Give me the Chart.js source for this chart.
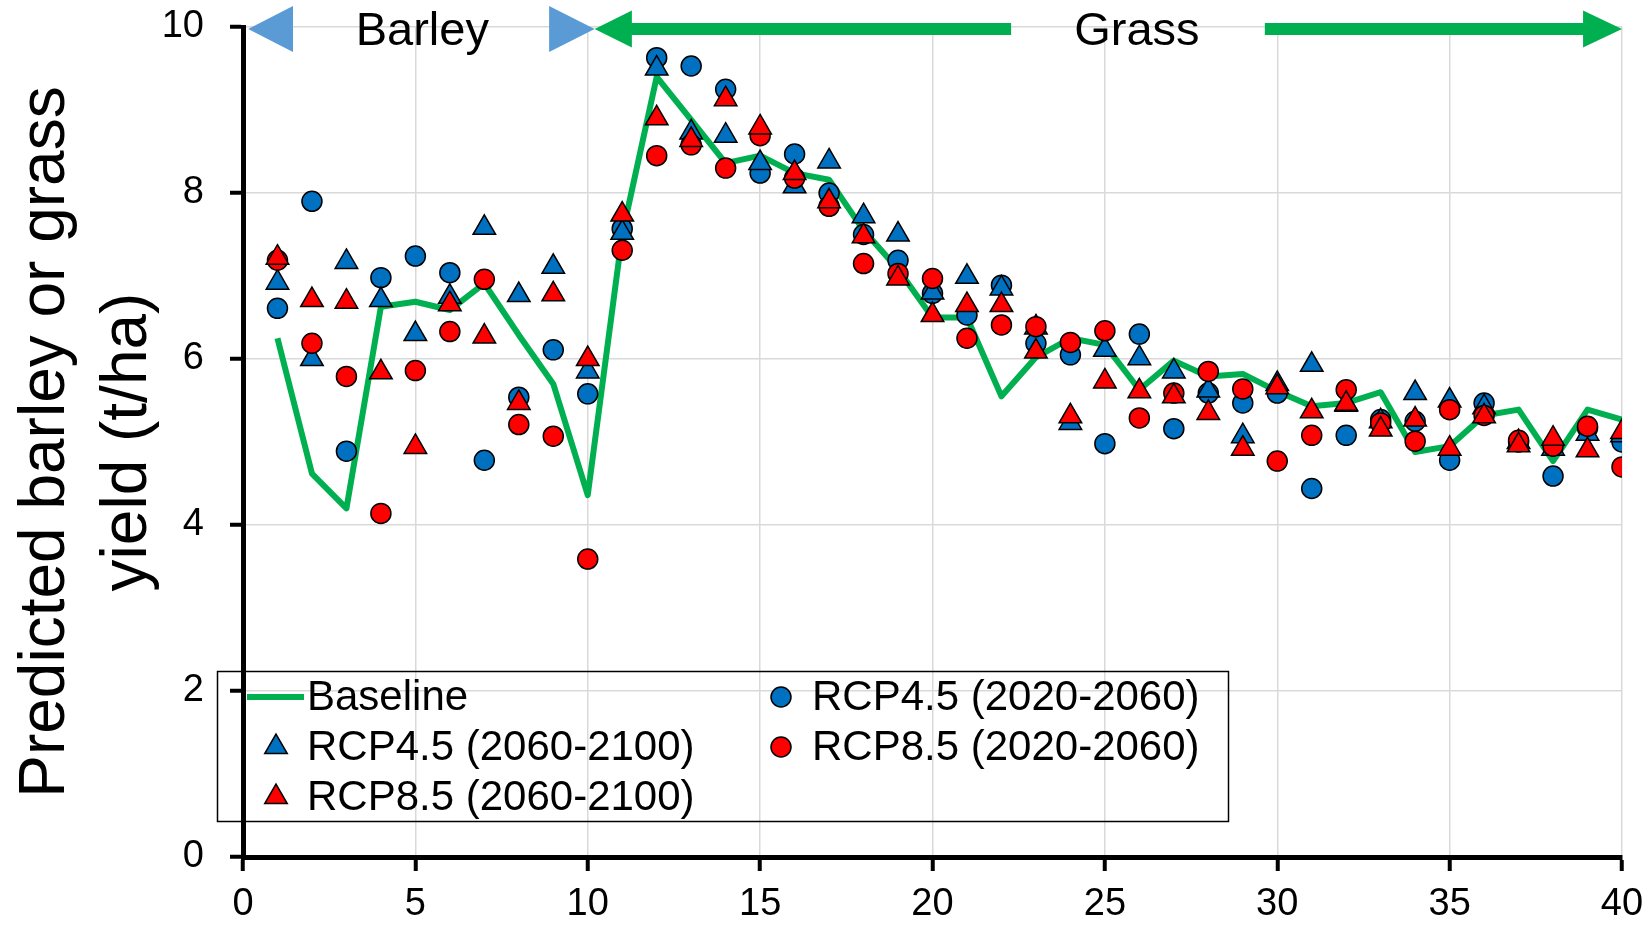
<!DOCTYPE html>
<html>
<head>
<meta charset="utf-8">
<script src="https://cdn.jsdelivr.net/npm/chart.js@4.4.0/dist/chart.umd.min.js"></script>
<style>
  html, body { margin: 0; padding: 0; background: #fff; }
  #wrap { width: 1650px; height: 929px; }
</style>
</head>
<body>
<div id="wrap"><canvas id="chart" width="1650" height="929"></canvas></div>
<script>
// ============================
// Data
// ============================

const years = [1, 2, 3, 4, 5, 6, 7, 8, 9, 10,
    11, 12, 13, 14, 15, 16, 17, 18, 19, 20,
    21, 22, 23, 24, 25, 26, 27, 28, 29, 30,
    31, 32, 33, 34, 35, 36, 37, 38, 39, 40];

const baseline = [6.25, 4.62, 4.20, 6.63, 6.69, 6.59, 6.91, 6.29, 5.70, 4.36,
    7.50, 9.40, 8.88, 8.36, 8.45, 8.24, 8.16, 7.55, 7.08, 6.50,
    6.50, 5.55, 6.02, 6.25, 6.17, 5.63, 5.98, 5.79, 5.82, 5.61,
    5.43, 5.47, 5.60, 4.88, 4.95, 5.32, 5.39, 4.77, 5.39, 5.27];

// RCP4.5 (2020-2060) - blue circles
const rcp45Early = [6.61, 7.90, 4.89, 6.98, 7.24, 7.04, 4.78, 5.54, 6.11, 5.58,
    7.57, 9.63, 9.53, 9.25, 8.24, 8.47, 8.00, 7.50, 7.19, 6.79,
    6.53, 6.89, 6.19, 6.05, 4.98, 6.30, 5.16, 5.59, 5.47, 5.59,
    4.44, 5.08, 5.27, 5.25, 4.78, 5.47, 5.00, 4.59, 5.17, 5.00];

// RCP4.5 (2060-2100) - blue triangles
const rcp45Late = [6.92, 6.00, 7.17, 6.71, 6.30, 6.75, 7.58, 6.77, 7.11, 5.85,
    7.52, 9.50, 8.73, 8.69, 8.36, 8.08, 8.38, 7.72, 7.50, 6.80,
    6.99, 6.85, 6.38, 5.23, 6.11, 6.01, 5.85, 5.62, 5.07, 5.70,
    5.93, 5.45, 5.25, 5.59, 5.50, 5.42, 5.00, 4.92, 5.10, 5.08];

// RCP8.5 (2020-2060) - red circles
const rcp85Early = [7.19, 6.19, 5.79, 4.14, 5.86, 6.33, 6.96, 5.21, 5.07, 3.59,
    7.31, 8.45, 8.58, 8.30, 8.69, 8.18, 7.84, 7.15, 7.03, 6.97,
    6.25, 6.41, 6.39, 6.20, 6.34, 5.29, 5.59, 5.85, 5.64, 4.77,
    5.08, 5.63, 5.23, 5.01, 5.39, 5.32, 5.02, 4.95, 5.19, 4.70];

// RCP8.5 (2060-2100) - red triangles
const rcp85Late = [7.22, 6.71, 6.69, 5.84, 4.94, 6.66, 6.27, 5.47, 6.78, 6.00,
    7.74, 8.90, 8.64, 9.13, 8.79, 8.24, 7.90, 7.48, 6.97, 6.53,
    6.65, 6.65, 6.09, 5.31, 5.73, 5.61, 5.55, 5.35, 4.92, 5.66,
    5.37, 5.46, 5.15, 5.27, 4.92, 5.31, 4.96, 5.04, 4.90, 5.12];

const xTicks = [0, 5, 10, 15, 20, 25, 30, 35, 40];
const yTicks = [0, 2, 4, 6, 8, 10];

const FONT = '"Liberation Sans", Arial, sans-serif';
const GREEN = '#00b050';
const BLUE = '#0070c0';
const RED = '#ff0000';
const ARROW_BLUE = '#5b9bd5';

const toPoints = values => years.map((yr, i) => ({ x: yr, y: values[i] }));

// ============================
// Marker helper (same geometry as Chart.js)
// ============================

function drawMarker(ctx, style, x, y, r, fill) {
    ctx.beginPath();
    if (style === 'circle') {
        ctx.arc(x, y, r, 0, Math.PI * 2);
    } else {
        let rad = 0;
        for (let k = 0; k < 3; k++) {
            const px = x + Math.sin(rad) * r;
            const py = y - Math.cos(rad) * r;
            if (k === 0) ctx.moveTo(px, py); else ctx.lineTo(px, py);
            rad += Math.PI * 2 / 3;
        }
        ctx.closePath();
    }
    ctx.fillStyle = fill;
    ctx.fill();
    ctx.lineWidth = 1.5;
    ctx.strokeStyle = '#000';
    ctx.stroke();
}

// ============================
// Top band: Barley / Grass arrows
// ============================

const topBand = {
    id: 'topBand',
    afterDraw(chart) {
        const { ctx, scales: { x, y } } = chart;
        const yc = y.getPixelForValue(10) + 2;
        const px = v => x.getPixelForValue(v);
        ctx.save();

        // barley: two blue triangles
        ctx.fillStyle = ARROW_BLUE;
        ctx.beginPath();
        ctx.moveTo(px(0.15), yc);
        ctx.lineTo(px(1.45), yc - 23);
        ctx.lineTo(px(1.45), yc + 23);
        ctx.closePath();
        ctx.fill();
        ctx.beginPath();
        ctx.moveTo(px(10.2), yc);
        ctx.lineTo(px(8.88), yc - 23);
        ctx.lineTo(px(8.88), yc + 23);
        ctx.closePath();
        ctx.fill();

        // grass: green double arrow with a gap for the text
        ctx.fillStyle = GREEN;
        ctx.beginPath();
        ctx.moveTo(px(10.2), yc);
        ctx.lineTo(px(11.28), yc - 18.5);
        ctx.lineTo(px(11.28), yc + 18.5);
        ctx.closePath();
        ctx.fill();
        ctx.fillRect(px(11.2), yc - 6, px(22.28) - px(11.2), 12);
        ctx.fillRect(px(29.64), yc - 6, px(38.95) - px(29.64), 12);
        ctx.beginPath();
        ctx.moveTo(px(40), yc);
        ctx.lineTo(px(38.87), yc - 18.5);
        ctx.lineTo(px(38.87), yc + 18.5);
        ctx.closePath();
        ctx.fill();

        ctx.fillStyle = '#000';
        ctx.font = '47px ' + FONT;
        ctx.textAlign = 'center';
        ctx.textBaseline = 'middle';
        ctx.fillText('Barley', px(5.2), yc + 3);
        ctx.fillText('Grass', px(25.93), yc + 3);
        ctx.restore();
    }
};

// ============================
// Legend (two columns, boxed)
// ============================

const boxedLegend = {
    id: 'boxedLegend',
    afterDraw(chart) {
        const ctx = chart.ctx;
        ctx.save();
        ctx.strokeStyle = '#000';
        ctx.lineWidth = 1.5;
        ctx.strokeRect(217.5, 671.5, 1011, 150);

        const ds = chart.data.datasets;
        const items = [
            { d: ds[4], mx: 276, tx: 307, y: 697 },
            { d: ds[3], mx: 276, tx: 307, y: 747 },
            { d: ds[1], mx: 276, tx: 307, y: 797 },
            { d: ds[2], mx: 781, tx: 812, y: 697 },
            { d: ds[0], mx: 781, tx: 812, y: 747 }
        ];

        items.forEach(it => {
            if (it.d.showLine) {
                ctx.strokeStyle = it.d.borderColor;
                ctx.lineWidth = it.d.borderWidth;
                ctx.beginPath();
                ctx.moveTo(247, it.y);
                ctx.lineTo(304, it.y);
                ctx.stroke();
            } else {
                drawMarker(ctx, it.d.pointStyle, it.mx, it.y, it.d.pointRadius, it.d.backgroundColor);
            }
            ctx.fillStyle = '#000';
            ctx.font = '42px ' + FONT;
            ctx.textAlign = 'left';
            ctx.textBaseline = 'middle';
            ctx.fillText(it.d.label, it.tx, it.y + 1);
        });
        ctx.restore();
    }
};

// ============================
// Chart
// ============================

const ctx = document.getElementById('chart').getContext('2d');

new Chart(ctx, {
    type: 'scatter',
    data: {
        datasets: [
            {
                label: 'RCP8.5 (2020-2060)',
                data: toPoints(rcp85Early),
                pointStyle: 'circle',
                pointRadius: 10,
                backgroundColor: RED,
                borderColor: '#000',
                borderWidth: 1.5,
                order: 1
            },
            {
                label: 'RCP8.5 (2060-2100)',
                data: toPoints(rcp85Late),
                pointStyle: 'triangle',
                pointRadius: 13,
                backgroundColor: RED,
                borderColor: '#000',
                borderWidth: 1.5,
                order: 0
            },
            {
                label: 'RCP4.5 (2020-2060)',
                data: toPoints(rcp45Early),
                pointStyle: 'circle',
                pointRadius: 10,
                backgroundColor: BLUE,
                borderColor: '#000',
                borderWidth: 1.5,
                order: 3
            },
            {
                label: 'RCP4.5 (2060-2100)',
                data: toPoints(rcp45Late),
                pointStyle: 'triangle',
                pointRadius: 13,
                backgroundColor: BLUE,
                borderColor: '#000',
                borderWidth: 1.5,
                order: 2
            },
            {
                label: 'Baseline',
                data: toPoints(baseline),
                showLine: true,
                borderColor: GREEN,
                backgroundColor: GREEN,
                borderWidth: 6,
                borderJoinStyle: 'round',
                pointRadius: 0,
                tension: 0,
                order: 4
            }
        ]
    },
    options: {
        responsive: false,
        devicePixelRatio: 1,
        animation: false,
        layout: {
            padding: { top: 27, right: 28, left: 0, bottom: 0 }
        },
        scales: {
            x: {
                type: 'linear',
                min: 0,
                max: 40,
                afterBuildTicks: s => { s.ticks = xTicks.map(v => ({ value: v })); },
                afterFit: s => {
                    s.height = 72;
                    s.paddingLeft = 0;
                    s.paddingRight = 0;
                },
                grid: {
                    color: '#d9d9d9',
                    lineWidth: 1.5,
                    tickLength: 14,
                    tickColor: '#000',
                    tickWidth: 4
                },
                border: { color: '#000', width: 5 },
                ticks: {
                    color: '#000',
                    padding: 11,
                    maxRotation: 0,
                    font: { family: FONT, size: 38 }
                }
            },
            y: {
                min: 0,
                max: 10,
                afterBuildTicks: s => { s.ticks = yTicks.map(v => ({ value: v })); },
                afterFit: s => {
                    s.width = 243;
                    s.paddingTop = 0;
                    s.paddingBottom = 0;
                },
                grid: {
                    color: '#d9d9d9',
                    lineWidth: 1.5,
                    tickLength: 13,
                    tickColor: '#000',
                    tickWidth: 4
                },
                border: { color: '#000', width: 5 },
                ticks: {
                    color: '#000',
                    padding: 26,
                    font: { family: FONT, size: 38 }
                },
                title: {
                    display: true,
                    text: ['Predicted barley or grass', 'yield (t/ha)'],
                    color: '#000',
                    font: { family: FONT, size: 64, lineHeight: 1.27 },
                    padding: { top: 6, bottom: 0 }
                }
            }
        },
        plugins: {
            legend: { display: false },
            tooltip: { enabled: false }
        }
    },
    plugins: [topBand, boxedLegend]
});
</script>
</body>
</html>
